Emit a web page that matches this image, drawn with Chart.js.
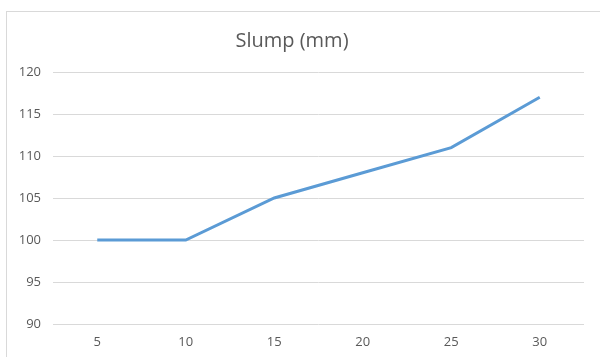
<!DOCTYPE html>
<html>
<head>
<meta charset="utf-8">
<script src="https://cdn.jsdelivr.net/npm/chart.js@4"></script>
<style>
  html, body { margin: 0; padding: 0; background: #ffffff; }
  #wrap { position: relative; width: 600px; height: 357px; overflow: hidden; }
  #frame { position: absolute; left: 6px; top: 11px; width: 700px; height: 500px; border: 1px solid #d9d9d9; box-sizing: border-box; }
  canvas { position: absolute; left: 0; top: 0; }
</style>
</head>
<body>
<div id="wrap">
  <div id="frame"></div>
  <canvas id="c" width="600" height="357"></canvas>
</div>
<script>
// Slump readings per mix step
const categories = ['5', '10', '15', '20', '25', '30'];
const slumpValues = [100, 100, 105, 108, 111, 117];
const yTicks = [90, 95, 100, 105, 110, 115, 120];

const textColor = '#595959';
const gridColor = '#d9d9d9';

new Chart(document.getElementById('c'), {
  type: 'line',
  data: {
    labels: categories,
    datasets: [{
      label: 'Slump (mm)',
      data: slumpValues,
      borderColor: '#5b9bd5',
      borderWidth: 3,
      pointRadius: 0,
      tension: 0,
      fill: false
    }]
  },
  options: {
    responsive: false,
    animation: false,
    layout: { padding: { left: 0, right: 16, top: 0, bottom: 0 } },
    plugins: {
      legend: { display: false },
      tooltip: { enabled: false },
      title: {
        display: true,
        text: 'Slump (mm)',
        color: textColor,
        font: { family: 'Open Sans', size: 20, weight: 'normal', lineHeight: 1.2 },
        padding: { top: 29.5, bottom: 18.5 }
      }
    },
    scales: {
      x: {
        offset: true,
        grid: { display: false, drawTicks: false },
        border: { display: false },
        ticks: { color: textColor, font: { family: 'Open Sans', size: 13 }, padding: 10, maxRotation: 0 },
        afterFit: s => { s.height = 33; }
      },
      y: {
        min: 90,
        max: 120,
        afterBuildTicks: s => { s.ticks = yTicks.map(v => ({ value: v })); },
        grid: { color: gridColor, lineWidth: 1, drawTicks: false },
        border: { display: false },
        ticks: { color: textColor, font: { family: 'Open Sans', size: 13 }, padding: 12 },
        afterFit: s => { s.width = 53; }
      }
    }
  }
});
</script>
</body>
</html>
